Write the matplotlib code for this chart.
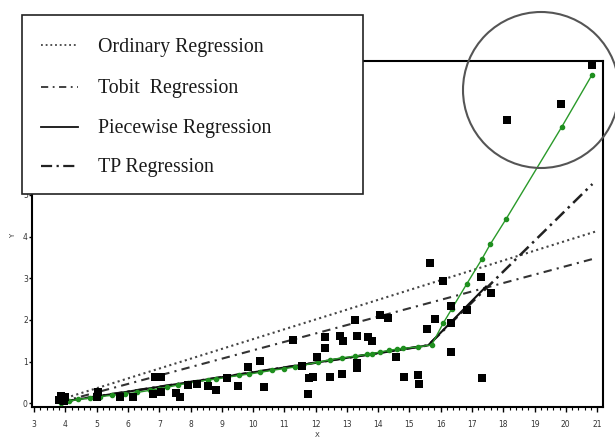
import matplotlib
matplotlib.use("Agg")
import matplotlib.pyplot as plt
from matplotlib.patches import Rectangle, Ellipse
from matplotlib.lines import Line2D

# observed data (black squares)
obs_x = [3.80, 3.85, 3.95, 4.00, 5.00, 5.05, 5.74, 6.17, 6.80, 6.85, 7.05, 7.05,
         7.55, 7.66, 7.93, 8.22, 8.55, 8.83, 9.15, 9.53, 9.85, 10.22, 10.36, 11.29,
         11.55, 11.80, 11.92, 11.77, 12.03, 12.30, 12.30, 12.46, 12.78, 12.87, 12.83,
         13.26, 13.31, 13.31, 13.31, 13.69, 13.79, 14.06, 14.33, 14.57, 14.84, 15.28,
         15.30, 15.55, 15.66, 15.82, 16.06, 16.33, 16.33, 16.33, 16.85, 17.28, 17.31,
         17.60, 18.11, 19.84, 20.85]
obs_y = [0.08, 0.18, 0.05, 0.15, 0.16, 0.28, 0.16, 0.16, 0.22, 0.62, 0.62, 0.28,
         0.24, 0.15, 0.44, 0.46, 0.41, 0.32, 0.60, 0.41, 0.86, 1.02, 0.40, 1.52,
         0.89, 0.60, 0.62, 0.22, 1.12, 1.60, 1.32, 0.62, 1.61, 1.50, 0.70,
         2.00, 1.61, 0.96, 0.84, 1.60, 1.50, 2.12, 2.04, 1.12, 0.62, 0.68,
         0.46, 1.77, 3.36, 2.02, 2.94, 2.34, 1.92, 1.22, 2.24, 3.04, 0.60,
         2.64, 6.79, 7.19, 8.11]

# fitted curves
ols_x = [3.85, 20.95]
ols_y = [0.09, 4.12]
tobit_x = [3.85, 20.95]
tobit_y = [0.03, 3.48]
pw_x = [3.85, 15.60, 17.45]
pw_y = [0.03, 1.39, 2.80]
tp_x = [3.85, 15.60, 20.85]
tp_y = [0.03, 1.39, 5.26]

# green fitted points
green_x = [3.85, 4.10, 4.40, 4.80, 5.10, 5.50, 5.90, 6.30, 6.70, 7.00, 7.24, 7.61,
           7.93, 8.22, 8.57, 8.83, 9.15, 9.56, 9.88, 10.22, 10.60, 11.00, 11.34,
           11.61, 12.09, 12.46, 12.83, 13.26, 13.63, 13.79, 14.06, 14.36, 14.60,
           14.80, 15.28, 15.71, 16.08, 16.35, 16.83, 17.31, 17.58, 18.09, 19.87, 20.83]
green_y = [0.00, 0.05, 0.09, 0.13, 0.16, 0.19, 0.22, 0.26, 0.31, 0.35, 0.38, 0.44,
           0.48, 0.52, 0.56, 0.58, 0.62, 0.67, 0.70, 0.74, 0.79, 0.83, 0.87,
           0.91, 0.99, 1.04, 1.09, 1.13, 1.17, 1.19, 1.23, 1.27, 1.30,
           1.32, 1.35, 1.40, 1.92, 2.26, 2.86, 3.45, 3.81, 4.42, 6.63, 7.87]

legend_labels = ["Ordinary Regression", "Tobit  Regression", "Piecewise Regression", "TP Regression"]
x_ticks = list(range(3, 22))
y_ticks = list(range(0, 9))

W, H = 615, 441
fig = plt.figure(figsize=(W / 100, H / 100), dpi=100)
ax = fig.add_axes([32 / W, (H - 407) / H, (603 - 32) / W, (407 - 60.7) / H])

dots = (0, (1, 1.6))
tobit_ls = (0, (4, 2.5, 1, 2.5))
tp_ls = (0, (5, 2, 1, 2))

ax.plot(ols_x, ols_y, color="#444444", lw=1.5, ls=dots, zorder=2)
ax.plot(tobit_x, tobit_y, color="#333333", lw=1.5, ls=tobit_ls, zorder=2)
ax.plot(tp_x, tp_y, color="#222222", lw=1.8, ls=tp_ls, zorder=2)
ax.plot(pw_x, pw_y, color="#111111", lw=1.5, ls="-", zorder=3)
ax.plot(green_x, green_y, color="#2a9a2a", lw=1.0, marker="o", ms=3.0,
        mfc="#1f8f1f", mec="#1f8f1f", zorder=4)
ax.scatter(obs_x, obs_y, marker="s", s=40, color="black", zorder=5, linewidths=0)

ax.set_xlim(2.93, 21.19)
ax.set_ylim(-0.09, 8.22)
ax.set_xticks(x_ticks)
ax.set_xticks([v / 5 for v in range(15, 106)], minor=True)
ax.set_yticks(y_ticks)
ax.tick_params(axis="both", which="major", length=3.5, width=1, labelsize=5.5,
               labelcolor="#333333", direction="out")
ax.tick_params(axis="x", which="major", pad=6)
ax.tick_params(axis="y", which="major", pad=0.5, length=2.5)
ax.tick_params(axis="x", which="minor", length=2, width=0.8, direction="out")
for s in ax.spines.values():
    s.set_linewidth(1.5)
ax.set_xlabel("X", fontsize=5, labelpad=2, color="#333333")
fig.text(13 / W, 1 - 236 / H, "Y", fontsize=5, rotation=90, ha="center", va="center",
         color="#333333")

# legend box
lx0, ly0, lx1, ly1 = 22, 15, 363, 194
fig.add_artist(Rectangle((lx0 / W, 1 - ly1 / H), (lx1 - lx0) / W, (ly1 - ly0) / H,
                         transform=fig.transFigure, facecolor="white",
                         edgecolor="#222222", lw=1.2, zorder=10))
rows = [45, 87, 127, 166]
baselines = [52, 93, 133, 172]
styles = [(dots, 1.3, "#444444"), (tobit_ls, 1.3, "#333333"),
          ("-", 1.3, "#111111"), (tp_ls, 1.6, "#222222")]
for yy, yb, lab, (ls, lw, c) in zip(rows, baselines, legend_labels, styles):
    fig.add_artist(Line2D([41 / W, 78 / W], [1 - yy / H, 1 - yy / H],
                          transform=fig.transFigure, ls=ls, lw=lw, color=c, zorder=11))
    fig.text(98 / W, 1 - yb / H, lab, fontsize=14.3, family="Liberation Serif",
             ha="left", va="baseline", color="#1a1a1a", zorder=12)

# highlight circle
fig.add_artist(Ellipse((541 / W, 1 - 90 / H), 156 / W, 156 / H,
                       transform=fig.transFigure, fill=False,
                       edgecolor="#555555", lw=1.5, zorder=12))

fig.savefig("out.png", dpi=100)
